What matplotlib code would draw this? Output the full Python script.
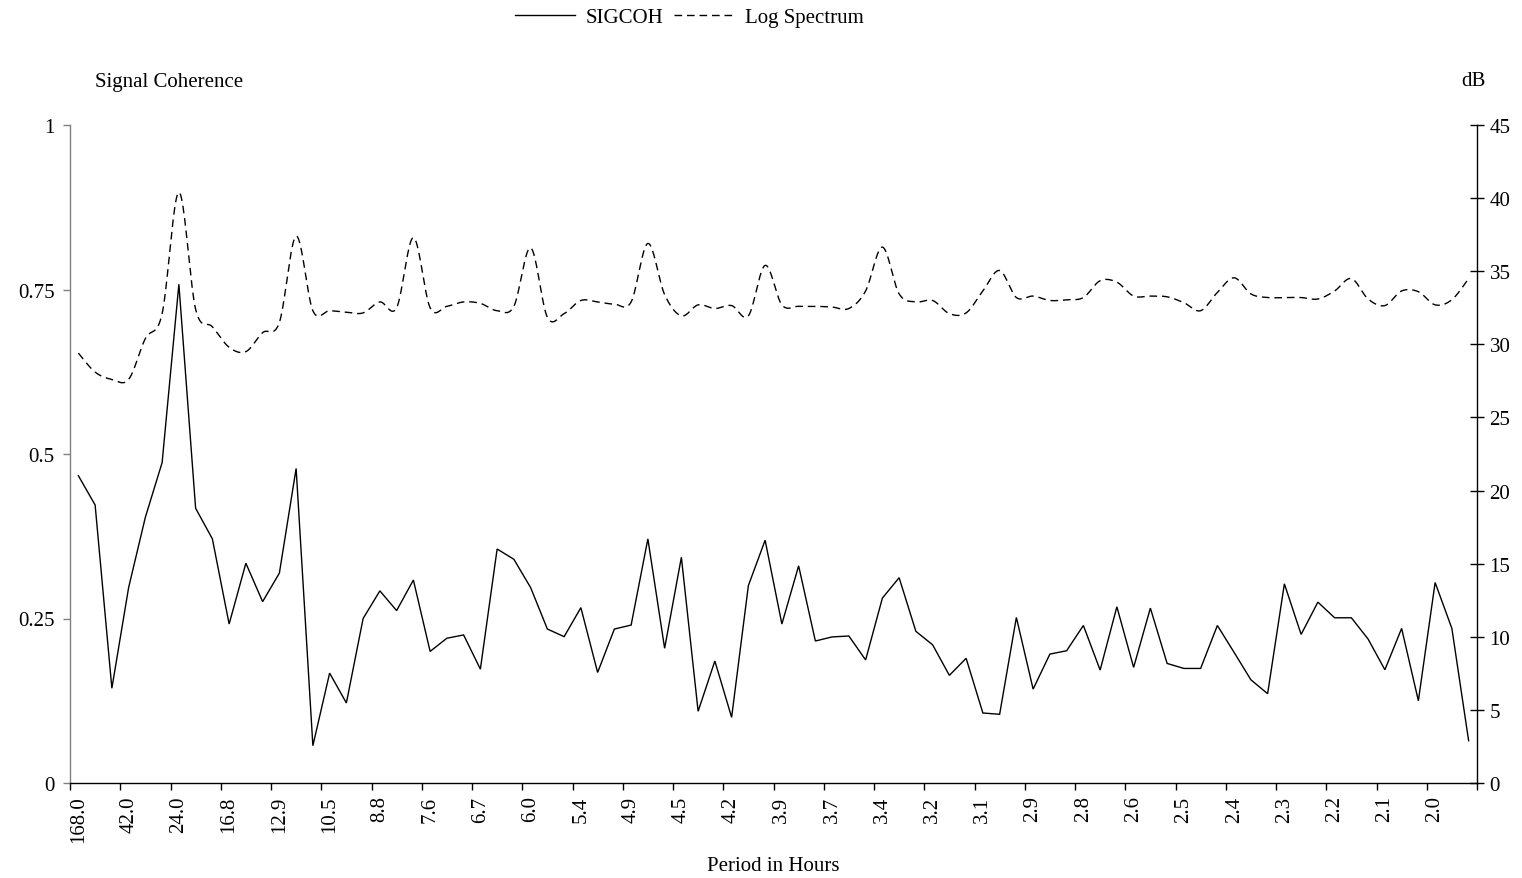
import numpy as np
import matplotlib
matplotlib.use("Agg")
import matplotlib.pyplot as plt
from matplotlib.lines import Line2D

# Signal coherence per harmonic (one value per period bin, 168 h / k, k = 1..84)
sigcoh = [0.467, 0.4225, 0.144, 0.297, 0.404, 0.487, 0.758, 0.4175, 0.371, 0.2416,
          0.334, 0.2756, 0.319, 0.478, 0.0567, 0.167, 0.1216, 0.250, 0.292, 0.262,
          0.3085, 0.200, 0.220, 0.225, 0.173, 0.3556, 0.340, 0.297, 0.234, 0.2224,
          0.2665, 0.168, 0.234, 0.240, 0.371, 0.2047, 0.343, 0.109, 0.1854, 0.0998,
          0.300, 0.369, 0.2416, 0.330, 0.2158, 0.222, 0.2234, 0.187, 0.281, 0.312,
          0.2305, 0.210, 0.1636, 0.1895, 0.1064, 0.1044, 0.2516, 0.1427, 0.1959, 0.201,
          0.2394, 0.1716, 0.2678, 0.1757, 0.2658, 0.1817, 0.1741, 0.1741, 0.2394, 0.1984,
          0.1569, 0.1357, 0.3027, 0.2258, 0.2749, 0.2511, 0.2511, 0.2187, 0.1721, 0.2349,
          0.125, 0.3047, 0.2349, 0.0643]

# Log spectrum in dB for the same bins
log_spectrum = [29.4, 28.1, 27.6, 27.6, 30.4, 32.1, 40.4, 32.4, 31.2, 29.8,
                29.5, 30.8, 31.5, 37.4, 32.3, 32.3, 32.2, 32.15, 32.9, 32.5,
                37.3, 32.5, 32.6, 32.9, 32.8, 32.3, 32.6, 36.6, 31.85, 32.1,
                33.0, 32.9, 32.75, 32.9, 36.9, 33.4, 31.95, 32.7, 32.45, 32.65,
                31.95, 35.4, 32.7, 32.6, 32.6, 32.55, 32.45, 33.65, 36.65, 33.45,
                32.9, 33.0, 32.1, 32.15, 33.65, 35.05, 33.2, 33.3, 33.0, 33.05,
                33.2, 34.35, 34.25, 33.3, 33.3, 33.25, 32.85, 32.3, 33.55, 34.55,
                33.45, 33.2, 33.2, 33.2, 33.1, 33.65, 34.5, 33.1, 32.65, 33.65,
                33.6, 32.7, 33.05, 34.5]

# Period labels shown on every third bin
period_labels = ["168.0", "42.0", "24.0", "16.8", "12.9", "10.5", "8.8", "7.6",
                 "6.7", "6.0", "5.4", "4.9", "4.5", "4.2", "3.9", "3.7", "3.4",
                 "3.2", "3.1", "2.9", "2.8", "2.6", "2.5", "2.4", "2.3", "2.2",
                 "2.1", "2.0"]
label_step = 3


def smooth_curve(x, y, steps=20):
    """Cubic Bezier smoothing through every point (Catmull-Rom control points)."""
    x = np.asarray(x, float)
    y = np.asarray(y, float)
    px = np.concatenate([[x[0]], x, [x[-1]]])
    py = np.concatenate([[y[0]], y, [y[-1]]])
    t = np.linspace(0, 1, steps, endpoint=False)[:, None]
    xs, ys = [], []
    for i in range(1, len(px) - 2):
        p0 = np.array([px[i], py[i]])
        p3 = np.array([px[i + 1], py[i + 1]])
        c1 = p0 + (p3 - np.array([px[i - 1], py[i - 1]])) / 6.0
        c2 = p3 - (np.array([px[i + 2], py[i + 2]]) - p0) / 6.0
        b = ((1 - t) ** 3) * p0 + 3 * ((1 - t) ** 2) * t * c1 + 3 * (1 - t) * t ** 2 * c2 + t ** 3 * p3
        xs.append(b[:, 0])
        ys.append(b[:, 1])
    xs.append([x[-1]])
    ys.append([y[-1]])
    return np.concatenate(xs), np.concatenate(ys)


plt.rcParams["font.family"] = ["Liberation Serif", "DejaVu Serif"]
plt.rcParams["font.size"] = 15

W, H = 1522, 879
fig = plt.figure(figsize=(W / 100, H / 100), dpi=100)
left_px, right_px, top_px, bottom_px = 70, 1477, 126, 784
ax = fig.add_axes([left_px / W, 1 - bottom_px / H,
                   (right_px - left_px) / W, (bottom_px - top_px) / H])
ax2 = ax.twinx()

n = len(sigcoh)
xc = np.arange(n) + 0.5

line1, = ax.plot(xc, sigcoh, color="black", lw=1.0, solid_joinstyle="miter")
sx, sy = smooth_curve(xc, log_spectrum)
line2, = ax2.plot(sx, sy, color="black", lw=1.0, linestyle=(0, (5.5, 3.5)))

ax.set_xlim(0, n)
ax.set_ylim(0, 1)
ax2.set_ylim(0, 45)

ax.set_yticks([0, 0.25, 0.5, 0.75, 1])
ax.set_yticklabels(["0", "0.25", "0.5", "0.75", "1"])
ax2.set_yticks(np.arange(0, 46, 5))

# category boundaries carry the tick marks; labels sit at bin centres
ax.set_xticks(np.arange(0, n + 1, label_step))
ax.set_xticklabels([])
ax.set_xticks(np.arange(0, n, label_step) + 0.5, minor=True)
ax.set_xticklabels(period_labels, minor=True, rotation=90, va="top", ha="center")
ax.tick_params(axis="x", which="major", direction="out", length=5, width=1, color="black")
ax.tick_params(axis="x", which="minor", length=0, pad=9)

ax.tick_params(axis="y", direction="out", length=5, width=1, color="#808080", pad=6)
ax2.tick_params(axis="y", direction="inout", length=10, width=1, color="black", pad=4)

for a in (ax, ax2):
    a.spines["top"].set_visible(False)
    a.set_facecolor("none")
ax.spines["right"].set_visible(False)
ax2.spines["left"].set_visible(False)
ax2.spines["bottom"].set_visible(False)
ax.spines["left"].set_color("#808080")
ax.spines["bottom"].set_color("black")
ax2.spines["right"].set_color("black")
for s in ("left", "bottom"):
    ax.spines[s].set_linewidth(1.0)
ax2.spines["right"].set_linewidth(1.0)

fig.text(95 / W, 1 - 82 / H, "Signal Coherence", ha="left", va="center")
fig.text(1473 / W, 1 - 82 / H, "dB", ha="center", va="center")
fig.text((left_px + right_px) / 2 / W, 1 - 867 / H, "Period in Hours", ha="center", va="center")

fig.legend([line1, line2], ["SIGCOH", "Log Spectrum"], loc="center",
           bbox_to_anchor=(689 / W, 1 - 18 / H), ncol=2, frameon=False,
           handlelength=2.9, handletextpad=0.5, columnspacing=0.5, borderpad=0)

fig.savefig("out.png", dpi=100)
